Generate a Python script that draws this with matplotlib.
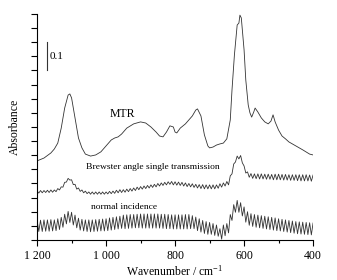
import numpy as np
import matplotlib
matplotlib.use("Agg")
import matplotlib.pyplot as plt

plt.rcParams["font.family"] = ["Liberation Serif", "DejaVu Serif"]
plt.rcParams["mathtext.fontset"] = "stix"

mtr_wn = [1200, 1180, 1160, 1150, 1140, 1130, 1120, 1110, 1105, 1100, 1090, 1080,
          1070, 1060, 1045, 1030, 1015, 1000, 985, 975, 965, 955, 940, 920, 900,
          885, 870, 855, 845, 835, 825, 815, 805, 800, 795, 785, 770, 760, 750,
          740, 735, 725, 715, 705, 700, 690, 680, 670, 660, 650, 640, 635, 628,
          620, 615, 612, 608, 600, 595, 588, 583, 578, 572, 568, 560, 550, 540,
          530, 522, 516, 510, 500, 490, 480, 470, 450, 430, 410, 400]
mtr_abs = [.280, .290, .308, .322, .343, .396, .467, .513, .517, .503, .432, .361,
           .326, .304, .297, .301, .312, .333, .354, .361, .365, .375, .396, .411, .418,
           .414, .400, .382, .368, .365, .382, .404, .400, .382, .379, .396, .411, .425, .439,
           .460, .464, .439, .372, .333, .326, .329, .336, .340, .343, .358, .425, .531, .655,
           .761, .768, .796, .786, .673, .566, .478, .450, .435, .453, .467, .453, .432, .418,
           .411, .421, .443, .418, .389, .368, .358, .347, .333, .319, .304, .301]

# Brewster and normal incidence spectra, every 5 cm-1 from 1200 to 400
grid_wn = np.arange(1200, 399, -5)
brewster_abs = [
    .174, .166, .175, .167, .175, .168, .176, .168, .177, .169,
    .177, .171, .182, .177, .188, .187, .204, .205, .218, .212,
    .213, .196, .197, .180, .184, .172, .177, .167, .173, .164,
    .170, .162, .170, .162, .170, .162, .170, .162, .170, .162,
    .170, .163, .172, .164, .173, .165, .176, .167, .178, .168,
    .178, .169, .180, .171, .182, .173, .184, .175, .187, .178,
    .189, .180, .191, .182, .193, .184, .195, .186, .197, .188,
    .200, .191, .202, .193, .204, .195, .206, .197, .207, .195,
    .206, .194, .205, .193, .204, .191, .202, .189, .200, .188,
    .199, .186, .197, .184, .196, .182, .196, .181, .195, .181,
    .195, .181, .195, .181, .195, .183, .199, .187, .202, .191,
    .207, .195, .227, .234, .269, .276, .297, .287, .299, .273,
    .262, .237, .241, .222, .235, .218, .234, .217, .234, .216,
    .234, .216, .233, .215, .233, .215, .232, .213, .233, .213,
    .233, .213, .232, .212, .232, .212, .231, .211, .231, .211,
    .231, .210, .231, .209, .231, .209, .231, .209, .230, .208,
    .230]
normal_abs = [
    .070, .030, .070, .030, .071, .031, .071, .031, .072, .032,
    .071, .033, .075, .037, .080, .045, .091, .057, .101, .062,
    .098, .053, .088, .043, .077, .035, .073, .032, .071, .030,
    .071, .029, .071, .030, .072, .031, .073, .032, .074, .032,
    .075, .033, .078, .035, .080, .037, .082, .039, .084, .041,
    .088, .040, .089, .041, .090, .042, .090, .043, .091, .043,
    .092, .042, .092, .042, .092, .042, .092, .042, .092, .042,
    .092, .042, .091, .041, .091, .040, .090, .040, .089, .039,
    .089, .039, .089, .039, .089, .039, .090, .039, .090, .040,
    .086, .040, .081, .033, .075, .028, .069, .023, .065, .020,
    .062, .020, .058, .016, .053, .013, .040, .003, .053, .015,
    .058, .025, .090, .069, .125, .098, .140, .098, .132, .085,
    .117, .063, .100, .052, .093, .048, .090, .045, .088, .043,
    .086, .041, .084, .039, .082, .037, .080, .035, .078, .033,
    .075, .032, .073, .030, .071, .028, .069, .026, .067, .024,
    .065, .022, .064, .021, .063, .020, .062, .019, .061, .018,
    .060]

x_ticks = [1200, 1000, 800, 600, 400]
x_tick_labels = ["1 200", "1 000", "800", "600", "400"]

fig = plt.figure(figsize=(3.37, 2.80), dpi=100)
ax = fig.add_axes([0.110, 0.143, 0.819, 0.807])

line_kw = dict(color="#333333", lw=0.6)
ax.plot(mtr_wn, mtr_abs, **line_kw)
ax.plot(grid_wn, brewster_abs, **line_kw)
ax.plot(grid_wn, normal_abs, **line_kw)

# scale bar for 0.1 absorbance
ax.plot([1171, 1171], [0.60, 0.70], color="#333333", lw=0.8)
ax.text(1164, 0.65, "0.1", fontsize=8, va="center", ha="left")

ax.text(954, 0.445, "MTR", fontsize=8.5, ha="center", va="center")
ax.text(865, 0.258, "Brewster angle single transmission", fontsize=6.8,
        ha="center", va="center")
ax.text(948, 0.117, "normal incidence", fontsize=6.8, ha="center", va="center")

ax.set_xlim(1200, 400)
ax.set_ylim(0, 0.8)
ax.set_xticks(x_ticks)
ax.set_xticklabels(x_tick_labels, fontsize=8.5)
ax.set_xticks([1100, 900, 700, 500], minor=True)
ax.set_yticks(np.arange(0, 0.801, 0.05))
ax.set_yticklabels([])
ax.tick_params(direction="out", length=4, width=0.8)
ax.tick_params(which="minor", direction="out", length=2.5, width=0.8)
ax.spines["top"].set_visible(False)
ax.spines["right"].set_visible(False)
ax.set_xlabel("Wavenumber / cm$^{\\mathregular{-1}}$", fontsize=8.5, labelpad=1)
ax.set_ylabel("Absorbance", fontsize=8.5, labelpad=4)

fig.savefig("out.png", dpi=100)
